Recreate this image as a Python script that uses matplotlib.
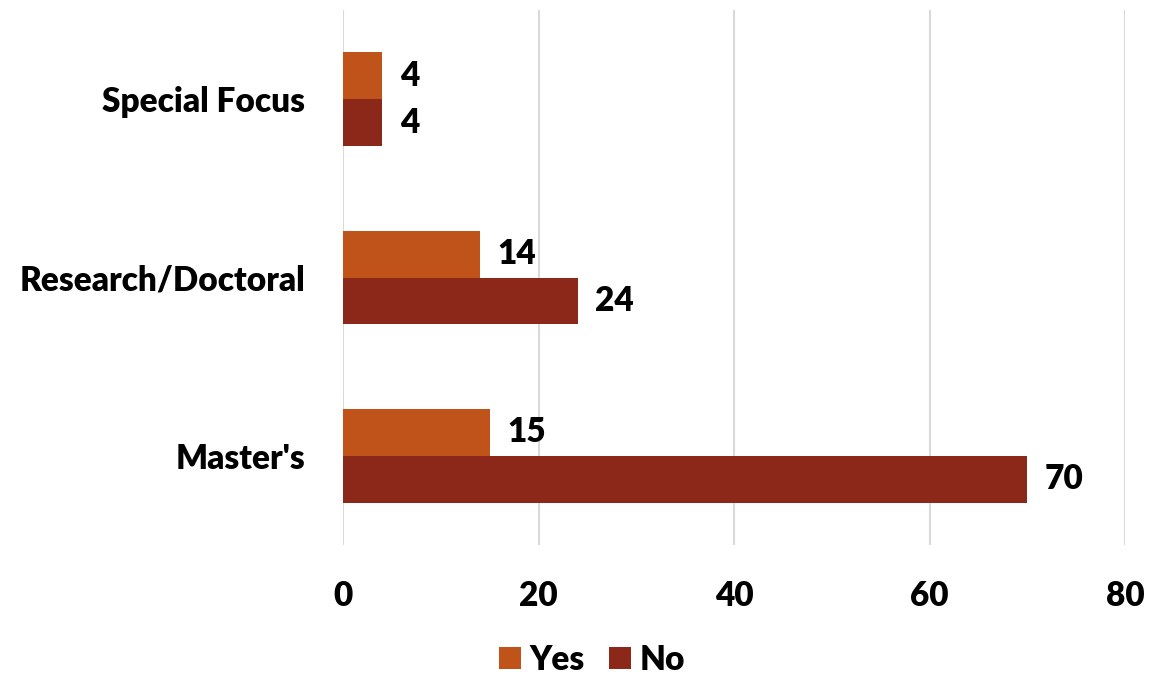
import matplotlib
matplotlib.use("Agg")
import matplotlib.pyplot as plt
import numpy as np

categories = ["Master's", "Research/Doctoral", "Special Focus"]
yes_values = [15, 14, 4]
no_values = [70, 24, 4]
series_names = ["Yes", "No"]
x_ticks = [0, 20, 40, 60, 80]

YES_COLOR = "#C0531A"
NO_COLOR = "#8B281A"
FS = 24
W = 'heavy'

plt.rcParams['font.family'] = ['Lato', 'DejaVu Sans']
plt.rcParams['font.weight'] = W

fig = plt.figure(figsize=(11.62, 6.74), dpi=100)
ax = fig.add_axes([343/1162, 1 - 545/674, (1125-343)/1162, (545-10)/674])

y = np.arange(len(categories))
h = 0.263
b1 = ax.barh(y + h/2, yes_values, height=h, color=YES_COLOR, label=series_names[0], zorder=3)
b2 = ax.barh(y - h/2, no_values, height=h, color=NO_COLOR, label=series_names[1], zorder=3)

for bars, vals in ((b1, yes_values), (b2, no_values)):
    for rect, v in zip(bars, vals):
        ax.text(rect.get_width() + 1.8, rect.get_y() + rect.get_height()/2, str(v),
                va='center', ha='left', fontsize=FS, fontweight=W, color='black')

ax.set_xlim(0, 80)
ax.set_ylim(-0.5, 2.5)
ax.set_xticks(x_ticks)
ax.set_xticklabels([str(t) for t in x_ticks], fontsize=FS, fontweight=W)
ax.set_yticks(y)
ax.set_yticklabels(categories, fontsize=FS, fontweight=W)
ax.tick_params(axis='both', length=0)
ax.tick_params(axis='x', pad=25)
ax.tick_params(axis='y', pad=27)
ax.grid(axis='x', color='#D9D9D9', linewidth=1.5, zorder=0)
for s in ax.spines.values():
    s.set_visible(False)

fig.legend(handles=[b1, b2], labels=series_names, loc='center', bbox_to_anchor=(592/1162, 1 - 660/674),
           ncol=2, frameon=False, handlelength=0.65, handleheight=0.65,
           handletextpad=0.25, columnspacing=0.75, prop={'weight': W, 'size': FS})

fig.savefig("out.png", dpi=100)
